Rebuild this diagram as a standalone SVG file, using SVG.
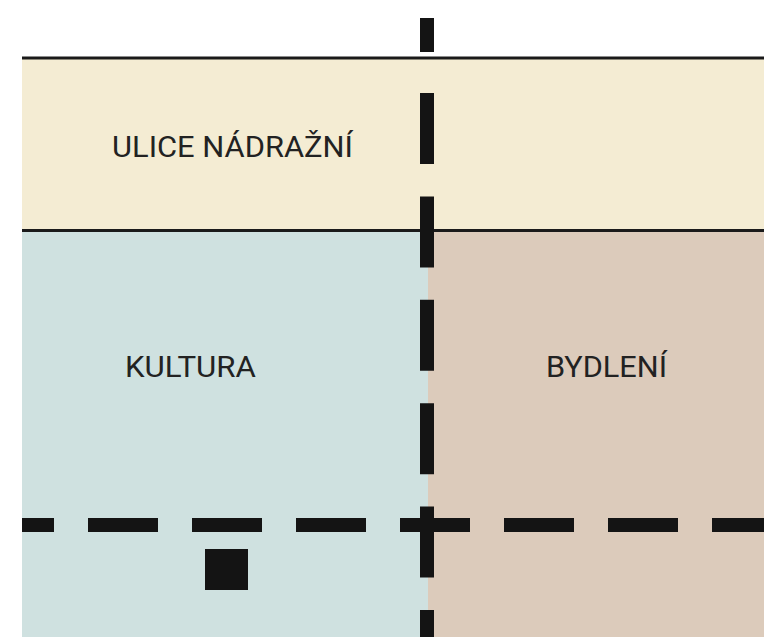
<svg xmlns="http://www.w3.org/2000/svg" width="764" height="637" viewBox="0 0 764 637">
  <style>
    .lbl { font-family: Roboto, "Liberation Sans", Arial, sans-serif; font-size: 30px; fill: #222222; }
    .edge { stroke: #1a1a1a; stroke-width: 3; fill: none; }
    .dash { stroke: #141414; stroke-width: 14; fill: none; }
  </style>
  <rect x="0" y="0" width="764" height="637" fill="#ffffff"/>
  <g id="ulice">
    <rect x="22" y="58" width="742" height="172" fill="#f4ecd3"/>
    <text class="lbl" x="112" y="156.5" textLength="241" lengthAdjust="spacingAndGlyphs">ULICE NÁDRAŽNÍ</text>
  </g>
  <g id="kultura">
    <rect x="22" y="230" width="406" height="407" fill="#cfe1e0"/>
    <text class="lbl" x="125" y="377" textLength="131" lengthAdjust="spacingAndGlyphs">KULTURA</text>
  </g>
  <g id="bydleni">
    <rect x="428" y="230" width="336" height="407" fill="#dccbbb"/>
    <text class="lbl" x="546" y="377" textLength="121" lengthAdjust="spacingAndGlyphs">BYDLENÍ</text>
  </g>
  <g id="edges">
    <line class="edge" x1="22" y1="58" x2="764" y2="58"/>
    <line class="edge" x1="22" y1="230.5" x2="764" y2="230.5"/>
  </g>
  <g id="connectors">
    <line class="dash" x1="427" y1="18" x2="427" y2="52"/>
    <line class="dash" x1="427" y1="93" x2="427" y2="637" stroke-dasharray="71 32.4"/>
    <line class="dash" x1="22" y1="525" x2="764" y2="525" stroke-dasharray="70 34" stroke-dashoffset="38"/>
  </g>
  <g id="marker-square">
    <rect x="205" y="549" width="43" height="41" fill="#141414"/>
  </g>
</svg>
